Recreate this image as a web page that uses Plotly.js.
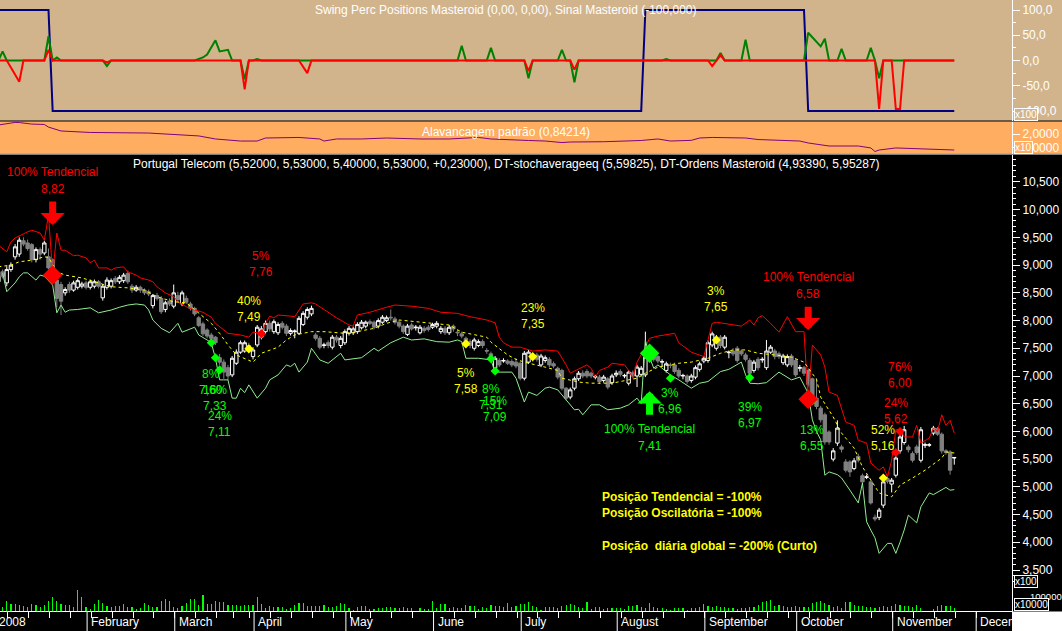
<!DOCTYPE html>
<html><head><meta charset="utf-8">
<script src="https://cdn.plot.ly/plotly-3.0.1.min.js"></script>
<style>html,body{margin:0;padding:0;background:#000;overflow:hidden}#chart{width:1062px;height:631px}</style>
</head><body><div id="chart"></div>
<script>
// ---------- categories / calendar ----------
const monthLabels = ['2008','February','March','April','May','June','July','August','September','October','November','December'];
const holidays = ['2008-01-01','2008-03-21','2008-03-24','2008-05-01'];

// ---------- price series (Portugal Telecom, daily) ----------
const open = [
 8.70,8.88,8.68,8.92,9.15,9.20,9.44,9.40,9.37,9.10,9.28,9.22,9.15,9.10,8.73,8.65,8.50,8.65,8.55,8.60,8.62,8.68,
 8.60,8.62,8.70,8.41,8.60,8.62,8.76,8.70,8.72,8.85,8.62,8.55,8.60,8.55,8.52,8.27,8.45,8.40,8.20,8.35,8.26,
 8.45,8.30,8.40,8.30,8.22,8.05,7.94,7.83,7.74,7.70,7.33,7.25,7.15,7.02,7.23,7.43,7.45,7.55,7.35,
 7.56,7.70,7.80,7.95,7.80,7.78,7.95,7.90,7.77,7.80,7.77,7.93,8.06,8.12,7.74,7.68,7.55,7.60,7.52,7.70,7.55,7.60,
 7.77,7.78,7.80,7.87,7.90,7.98,7.97,7.90,7.97,8.00,8.06,8.03,7.97,7.90,7.75,7.92,7.87,7.78,7.86,7.88,7.88,
 7.90,7.80,7.86,7.78,7.90,7.79,7.76,7.68,7.62,7.50,7.55,7.62,7.46,7.40,7.14,7.28,7.27,7.27,7.26,7.25,7.23,
 6.96,7.25,7.35,7.38,7.20,7.28,7.30,7.22,7.14,7.10,6.78,6.62,6.78,6.95,7.05,7.08,7.05,6.98,6.98,6.92,6.95,6.88,7.02,
 7.08,7.00,6.87,7.06,7.00,7.03,7.02,7.30,7.38,7.35,7.25,7.10,7.20,7.20,7.10,7.00,7.00,6.92,6.98,7.12,7.27,
 7.28,7.56,7.50,7.70,7.52,7.42,7.45,7.50,7.45,7.38,7.28,7.10,7.30,7.29,7.15,7.43,7.45,7.40,7.24,7.20,7.36,7.28,
 7.14,7.15,7.10,6.95,6.60,6.42,6.30,5.99,5.50,5.79,5.72,5.45,5.45,5.33,5.55,5.20,5.17,5.09,4.45,4.45,4.67,5.15,5.05,
 5.21,5.65,5.80,5.72,5.60,5.72,5.48,5.75,5.75,5.97,6.05,5.95,5.65,5.63,5.52];
const high = [
 8.85,8.92,8.98,9.05,9.38,9.50,9.50,9.46,9.40,9.32,9.32,9.44,9.30,9.12,8.78,8.70,8.60,8.70,8.72,8.76,8.70,8.72,
 8.74,8.74,8.73,8.66,8.78,8.76,8.80,8.82,8.86,8.90,8.66,8.64,8.63,8.58,8.56,8.48,8.50,8.44,8.36,8.40,8.65,
 8.52,8.54,8.45,8.34,8.25,8.08,7.98,7.86,7.78,7.72,7.40,7.30,7.20,7.36,7.48,7.64,7.64,7.60,7.52,
 7.92,7.90,8.00,8.00,8.02,7.97,7.99,7.94,7.86,7.84,8.08,8.17,8.24,8.27,7.78,7.72,7.60,7.64,7.74,7.74,7.72,7.84,
 7.90,7.89,7.97,8.01,8.00,8.02,8.00,8.04,8.10,8.09,8.20,8.07,8.00,7.93,7.94,7.96,7.92,7.92,7.90,7.92,7.96,
 7.99,7.90,7.90,7.92,7.93,7.83,7.80,7.71,7.66,7.69,7.66,7.66,7.50,7.44,7.36,7.32,7.32,7.30,7.30,7.32,7.26,
 7.45,7.47,7.40,7.42,7.40,7.37,7.34,7.26,7.17,7.13,6.80,6.79,6.99,7.09,7.10,7.12,7.08,7.02,7.02,7.02,6.98,7.04,7.10,
 7.12,7.04,7.10,7.10,7.20,7.18,7.80,7.50,7.42,7.38,7.30,7.26,7.24,7.24,7.14,7.04,7.03,7.04,7.19,7.26,7.36,
 7.64,7.80,7.74,7.74,7.74,7.46,7.50,7.54,7.48,7.42,7.32,7.29,7.34,7.34,7.65,7.56,7.49,7.44,7.40,7.39,7.40,7.32,
 7.20,7.18,7.14,6.97,6.96,6.46,6.34,6.02,5.70,6.20,5.76,5.50,5.48,5.52,5.60,5.24,5.22,5.12,4.50,4.62,5.12,5.20,5.16,
 5.56,5.94,6.10,5.76,5.64,5.76,6.08,5.80,5.79,6.10,6.08,5.98,5.68,5.66,5.53];
const low = [
 8.62,8.76,8.62,8.88,9.10,9.15,9.34,9.26,9.05,9.05,9.10,9.18,8.92,8.80,8.24,8.10,8.45,8.50,8.52,8.56,8.58,8.56,
 8.56,8.58,8.58,8.36,8.56,8.58,8.66,8.66,8.68,8.66,8.50,8.52,8.50,8.46,8.44,8.22,8.36,8.12,8.15,8.26,8.22,
 8.34,8.26,8.30,8.18,8.08,7.88,7.72,7.68,7.62,7.56,7.20,6.95,6.93,6.98,7.20,7.40,7.42,7.42,7.30,
 7.52,7.66,7.76,7.80,7.76,7.74,7.84,7.72,7.73,7.68,7.74,7.90,8.02,8.08,7.64,7.48,7.50,7.50,7.48,7.60,7.50,7.56,
 7.73,7.74,7.76,7.84,7.86,7.92,7.84,7.86,7.94,7.97,8.00,7.93,7.86,7.76,7.72,7.82,7.82,7.75,7.78,7.80,7.85,
 7.86,7.76,7.74,7.74,7.80,7.72,7.68,7.56,7.50,7.46,7.52,7.50,7.40,7.28,7.10,7.16,7.24,7.20,7.16,7.14,6.92,
 6.92,7.22,7.26,7.26,7.16,7.24,7.16,7.14,6.94,6.74,6.56,6.58,6.74,6.91,6.96,6.96,6.96,6.94,6.86,6.88,6.76,6.84,6.98,
 6.99,6.96,6.83,6.96,6.80,6.99,6.98,7.26,7.26,7.23,7.18,7.06,7.14,7.04,6.96,6.94,6.86,6.88,6.94,7.08,7.23,
 7.24,7.52,7.46,7.50,7.48,7.32,7.36,7.24,7.36,7.26,7.00,7.06,7.10,7.24,7.11,7.40,7.30,7.31,7.20,7.16,7.16,6.98,
 7.08,7.00,6.80,6.48,6.40,6.16,5.76,5.76,5.46,5.74,5.62,5.26,5.18,5.30,5.44,5.06,5.14,4.68,4.38,4.40,4.62,5.06,4.90,
 5.17,5.60,5.76,5.62,5.44,5.58,5.44,5.70,5.72,5.93,5.92,5.60,5.58,5.22,5.40];
const close = [
 8.80,8.80,8.92,9.00,9.33,9.45,9.38,9.30,9.10,9.28,9.20,9.40,8.95,8.85,8.40,8.35,8.56,8.55,8.68,8.72,8.66,8.60,
 8.70,8.70,8.62,8.62,8.73,8.72,8.70,8.78,8.82,8.70,8.55,8.60,8.55,8.50,8.48,8.45,8.40,8.16,8.32,8.30,8.50,
 8.38,8.50,8.33,8.22,8.12,7.91,7.76,7.72,7.68,7.60,7.25,7.07,7.00,7.32,7.43,7.60,7.60,7.45,7.47,
 7.88,7.85,7.95,7.85,7.98,7.93,7.88,7.77,7.82,7.81,8.04,8.13,8.20,8.22,7.68,7.52,7.56,7.55,7.70,7.65,7.68,7.80,
 7.86,7.85,7.93,7.97,7.97,7.95,7.88,8.00,8.06,8.05,8.05,7.97,7.90,7.80,7.90,7.85,7.88,7.88,7.82,7.84,7.93,
 7.95,7.86,7.78,7.88,7.85,7.78,7.72,7.60,7.55,7.65,7.62,7.55,7.45,7.33,7.32,7.20,7.28,7.23,7.20,7.18,6.96,
 7.41,7.43,7.30,7.30,7.36,7.33,7.20,7.18,6.98,6.78,6.60,6.75,6.95,7.05,7.00,7.00,7.00,6.99,6.90,6.98,6.80,7.00,7.05,
 7.03,7.01,7.07,7.00,7.16,7.14,7.34,7.45,7.30,7.27,7.26,7.22,7.19,7.08,7.00,7.01,6.90,7.00,7.15,7.22,7.32,
 7.60,7.76,7.70,7.55,7.70,7.43,7.40,7.28,7.40,7.30,7.05,7.25,7.15,7.30,7.45,7.52,7.35,7.35,7.36,7.35,7.20,7.02,
 7.15,7.05,6.85,6.52,6.45,6.21,5.81,5.81,5.65,6.06,5.68,5.30,5.27,5.47,5.48,5.09,5.18,4.71,4.42,4.58,5.09,5.10,5.12,
 5.52,5.90,6.03,5.67,5.48,5.62,6.03,5.76,5.76,6.06,5.95,5.65,5.62,5.30,5.53];
const volume = [
 5,3.7,10,7,7,6,5,4,6.7,6.3,4,6,10,14,9.7,7,5.7,6,4,21,14,3.7,
 1.7,6.7,10.7,7.7,4.7,4,4.7,5,7,4,4,2,3,8,6,4,4,9.7,12,9.7,4,
 3.3,5.3,8,12,12,6,16,7,7,10,9.3,9,6,6,6,5.3,6,6,5.7,
 14,7.3,3.3,5.3,4,4,4,2,3,6.3,8.3,8.3,5.3,5,5.3,5.3,6,4,4,5.3,8.3,7,
 3,1,4,5,5,2,2,2.7,3.3,4,4,3,2.7,4,3,3,0.5,3,2.3,2.3,10,
 3,7,7,3,4,3,2.7,6,5,4.7,2,4,2.7,6,5,5,4,8,4,5,7,
 7,9,5,4,1,4,4,4,2.7,5,6.3,7,6,4,3,9,2.3,4,4,2,3,3,3,
 3,2,5,5,6,4,3,8,4,3,2.7,2,1,3,3,3,1,3,3,4,7.3,
 5,4,5,4,4,3,2.7,2,2.7,3,4,4,6,9.3,10.3,11,5,6,5,4,4,5,
 4,4,4,8,9,10,8.3,6,4,5,3,9,9,6,5,5,4,4,3,4,5,4.3,5,
 7,6,5,5,4,6,3,0.5,0.5,2,5,6,5.3,5,3];

// ---------- DT-Ordens Masteroid bands and DT-stochaverageeq ----------
const upperIdx = [0,2,3,4,7,8,10,11,12,13,14,15,16,17,18,19,20,21,22,23,24,26,27,28,30,31,33,34,36,37,38,39,40,42,43,45,47,49,51,52,54,55,58,60,61,63,64,65,66,67,70,71,73,75,76,78,81,84,85,86,89,93,95,99,103,106,110,113,117,119,120,121,123,125,128,131,134,136,137,141,142,143,144,146,147,150,151,152,153,155,156,158,162,163,166,169,170,171,172,174,176,178,180,181,182,183,185,187,189,191,193,194,195,197,198,199,201,203,205,206,208,209,211,212,213,214,215,216,217,219,220,221,223,224,225,226,227,228,229];
const upperVal = [9.36,9.24,9.42,9.49,9.60,9.63,9.58,9.45,9.90,8.85,9.58,9.27,9.27,9.22,9.17,9.18,9.15,9.13,9.04,9.09,8.95,8.95,8.91,8.95,8.97,8.88,8.82,8.77,8.73,8.70,8.61,8.55,8.50,8.43,8.34,8.25,8.19,8.15,8.06,7.95,7.83,7.77,7.74,7.70,7.79,7.77,7.95,8.08,8.05,8.10,8.08,8.07,8.30,8.32,8.30,8.20,8.05,7.92,7.90,8.10,8.15,8.24,8.28,8.26,8.22,8.15,8.13,8.07,8.01,7.96,7.70,7.60,7.52,7.52,7.45,7.47,7.45,7.20,7.05,7.20,7.14,6.98,7.10,7.16,7.23,7.20,7.10,6.96,7.25,7.52,7.68,7.72,7.77,7.60,7.43,7.35,7.65,7.95,7.97,7.95,7.92,7.90,8.01,7.92,8.05,8.09,7.95,7.79,8.07,7.80,7.80,6.55,7.56,7.38,7.16,6.71,6.65,6.17,6.11,5.84,5.79,5.43,5.30,5.36,5.18,5.48,6.03,6.03,5.90,5.90,6.11,5.79,5.88,6.06,6.00,6.30,6.11,6.20,5.97];
const lowerIdx = [1,2,4,5,6,7,9,10,11,13,14,15,16,17,19,22,24,27,29,31,33,35,36,37,39,41,43,44,47,48,50,51,52,53,54,55,56,57,58,59,60,62,64,65,67,69,70,71,72,74,75,77,79,82,83,87,90,91,94,97,99,102,105,108,110,111,112,115,118,119,123,124,126,127,129,131,132,134,136,138,139,140,142,144,146,149,151,153,154,155,156,157,158,161,163,166,168,170,173,175,178,179,180,182,184,187,190,192,194,195,196,197,198,199,201,202,204,205,206,207,208,209,210,211,213,214,215,216,217,218,220,221,223,224,227,228,229];
const lowerVal = [8.86,8.52,8.68,8.79,8.86,8.86,8.73,8.82,8.80,8.64,8.14,8.28,8.15,8.19,8.20,8.23,8.14,8.19,8.24,8.28,8.30,8.28,8.19,8.01,7.86,7.78,7.95,7.79,7.88,7.74,7.65,7.60,7.32,6.93,6.93,6.93,6.60,6.60,6.78,6.70,6.84,6.60,6.78,6.93,7.02,7.20,7.17,7.23,7.07,7.25,7.50,7.29,7.23,7.41,7.29,7.33,7.50,7.45,7.60,7.70,7.65,7.67,7.62,7.61,7.65,7.62,7.32,7.32,7.29,7.07,7.07,6.96,6.53,6.71,6.65,6.78,6.80,6.75,6.57,6.39,6.40,6.30,6.48,6.48,6.39,6.42,6.48,6.60,6.50,7.65,7.34,7.14,7.20,7.02,6.93,6.78,6.87,6.90,7.08,7.12,7.25,7.02,6.87,6.86,6.88,7.07,6.93,6.98,6.69,6.21,6.00,5.85,5.21,5.27,5.22,5.16,4.94,4.82,4.71,5.07,4.37,4.22,4.08,3.80,3.98,3.98,3.80,4.00,4.22,4.49,4.35,4.64,4.89,4.86,4.99,4.94,4.95];
const midIdx = [0,3,5,8,11,12,14,16,20,23,27,31,35,38,42,45,48,51,53,55,57,60,61,63,67,69,71,75,78,83,86,90,93,96,99,104,108,111,114,117,118,122,124,126,131,134,135,139,142,147,153,155,158,163,166,170,173,176,179,182,186,190,193,196,197,200,202,205,207,209,211,214,216,219,222,226,227,229];
const midVal = [8.97,9.00,9.06,9.09,9.15,9.14,8.88,8.82,8.77,8.70,8.61,8.59,8.55,8.43,8.34,8.32,8.14,7.95,7.77,7.56,7.38,7.29,7.25,7.41,7.52,7.65,7.74,7.80,7.80,7.77,7.80,7.86,7.95,8.01,7.99,7.95,7.92,7.79,7.74,7.70,7.61,7.38,7.30,7.25,7.16,7.10,6.96,6.89,6.87,6.87,6.96,7.05,7.16,7.23,7.25,7.32,7.41,7.47,7.47,7.41,7.38,7.34,7.25,6.94,6.62,6.26,5.97,5.70,5.36,5.12,4.89,4.82,5.03,5.16,5.30,5.52,5.63,5.61];

// ---------- signals ----------
const oscIdx   = [51,52,53,60,63,112,118,119,128,161,172,180,195,212,215,216];
const oscPrice = [7.60,7.33,7.11,7.49,7.76,7.58,7.31,7.09,7.35,6.96,7.65,6.97,6.55,5.16,5.62,6.00];
const oscPct   = ['8%','16%','24%','40%','5%','5%','8%','15%','23%','3%','3%','39%','13%','52%','24%','76%'];
const oscKind  = ['buy','buy','buy','exit','sell','exit','buy','buy','exit','buy','exit','buy','buy','exit','sell','sell'];
const trendIdx   = [13,156,194];
const trendPrice = [8.82,7.41,6.58];
const trendKind  = ['sell','buy','sell'];
const trendPct   = ['100%','100%','100%'];

// ---------- Swing Perc Positions / Sinal Masteroid ----------
const signalIdx = [0,12,13,154,155,193,194,229];
const signalVal = [100,100,-100,-100,100,100,-100,-100];
const swingGreenIdx = [0,1,2,11,12,13,14,15,25,26,27,47,49,50,52,53,55,56,58,59,60,61,62,63,110,111,112,117,118,119,126,127,128,134,135,136,137,138,139,159,160,161,172,173,174,178,179,180,193,194,197,198,199,201,202,203,208,209,210,211,212,229];
const swingGreenVal = [0,18,0,0,48,0,6,0,0,-11,0,0,6,12,40,18,21,0,0,-37,0,0,3,0,0,29,0,0,25,0,0,-35,0,0,21,0,0,-43,0,0,3,0,0,15,0,0,41,0,0,55,28,43,0,0,23,0,0,25,0,-35,0,0];
const swingRedIdx = [0,2,3,4,5,6,11,12,13,25,26,27,58,59,60,72,74,75,126,127,128,137,138,139,170,171,172,173,174,210,211,212,214,215,216,217,229];
const swingRedVal = [0,0,-14,-28,-42,0,0,21,0,0,-4,0,0,-57,0,0,-25,0,0,-21,0,0,-18,0,0,-11,0,10,0,0,-96,0,0,-96,-96,0,0];

// ---------- Alavancagem padrão ----------
const levIdx = [0,4,5,8,11,12,15,22,36,48,52,58,62,64,72,77,78,81,87,93,101,108,115,118,127,131,135,137,145,154,158,161,166,168,171,179,182,192,194,199,206,209,210,211,215,221,229];
const levVal = [2.65,2.84,2.83,2.72,2.69,2.50,2.22,2.11,2.07,1.86,1.64,1.49,1.49,1.71,1.75,1.64,1.49,1.64,1.64,1.71,1.64,1.64,1.75,1.64,1.53,1.49,1.38,1.42,1.44,1.53,1.64,1.49,1.54,1.71,1.75,1.71,1.60,1.49,1.35,1.13,1.13,0.99,0.73,0.84,0.99,0.91,0.84];

// ---------- checks ----------
[open,high,low,volume].forEach(a=>{ if(a.length!==close.length) throw new Error('length mismatch '+a.length+' vs '+close.length); });
[[upperIdx,upperVal],[lowerIdx,lowerVal],[midIdx,midVal],[swingGreenIdx,swingGreenVal],[swingRedIdx,swingRedVal],[levIdx,levVal]].forEach((p,k)=>{ if(p[0].length!==p[1].length) throw new Error('pair '+k+' '+p[0].length+' vs '+p[1].length); });

// ---------- calendar ----------
function buildCalendar(endStr){
  const out=[]; const d=new Date(Date.UTC(2008,0,1)); const end=new Date(endStr+'T00:00:00Z');
  while(d<=end){ const wd=d.getUTCDay(); const s=d.toISOString().slice(0,10);
    if(wd!==0 && wd!==6 && holidays.indexOf(s)<0) out.push(s);
    d.setUTCDate(d.getUTCDate()+1); }
  return out;
}
const calendar = buildCalendar('2008-12-05');
const monthStart=[], weekStart=[];
for(let i=0;i<calendar.length;i++){
  const d=new Date(calendar[i]+'T00:00:00Z');
  if(i===0){monthStart.push(i);continue;}
  const p=new Date(calendar[i-1]+'T00:00:00Z');
  if(d.getUTCMonth()!==p.getUTCMonth()) monthStart.push(i);
  if(d.getUTCDay()<p.getUTCDay() || (d-p)>6*864e5) weekStart.push(i);
}
const idx = close.map((_,i)=>i);

// ---------- styling ----------
const FONT='Liberation Sans, Arial, sans-serif';
const TAN='#D2B48C', ORANGE='#FFAD60';
const COL={buy:'#00FF00', sell:'#FF0000', exit:'#FFFF00'};
const XR=[0.383,242.83];
const BOUND=0.75;
const PXH=611;
const pY=px=>(PXH-px)/PXH;
const RIGHT=1062/1012;

const traces=[];
traces.push({type:'scatter',mode:'lines',x:signalIdx,y:signalVal,xaxis:'x',yaxis:'y2',line:{color:'#000080',width:2},hoverinfo:'skip'});
traces.push({type:'scatter',mode:'lines',x:swingGreenIdx,y:swingGreenVal,xaxis:'x',yaxis:'y2',line:{color:'#008000',width:2},hoverinfo:'skip'});
traces.push({type:'scatter',mode:'lines',x:swingRedIdx,y:swingRedVal,xaxis:'x',yaxis:'y2',line:{color:'#FF0000',width:2},hoverinfo:'skip'});
traces.push({type:'scatter',mode:'lines',x:levIdx,y:levVal,xaxis:'x',yaxis:'y3',line:{color:'#800080',width:1},hoverinfo:'skip'});
traces.push({type:'candlestick',x:idx,open:open,high:high,low:low,close:close,xaxis:'x',yaxis:'y',
  increasing:{line:{color:'#FFFFFF',width:1},fillcolor:'#000000'},
  decreasing:{line:{color:'#808080',width:1},fillcolor:'#808080'},
  whiskerwidth:0,hoverinfo:'skip'});
traces.push({type:'scatter',mode:'lines',x:upperIdx,y:upperVal,xaxis:'x',yaxis:'y',line:{color:'#FF0000',width:1},hoverinfo:'skip'});
traces.push({type:'scatter',mode:'lines',x:lowerIdx,y:lowerVal,xaxis:'x',yaxis:'y',line:{color:'#90EE90',width:1},hoverinfo:'skip'});
traces.push({type:'scatter',mode:'lines',x:midIdx,y:midVal,xaxis:'x',yaxis:'y',line:{color:'#FFFF00',width:1,dash:'3px,3px'},hoverinfo:'skip'});
traces.push({type:'scatter',mode:'markers',x:oscIdx,y:oscPrice,xaxis:'x',yaxis:'y',
  marker:{symbol:'diamond',size:7,color:oscKind.map(k=>COL[k]),line:{width:0}},hoverinfo:'skip'});
traces.push({type:'scatter',mode:'markers',x:trendIdx,y:trendPrice,xaxis:'x',yaxis:'y',
  marker:{symbol:'diamond',size:15,color:trendKind.map(k=>COL[k]),line:{width:0}},hoverinfo:'skip'});
traces.push({type:'bar',x:idx,y:volume,xaxis:'x',yaxis:'y4',width:0.28,marker:{color:'#00FF00',line:{width:0}},hoverinfo:'skip'});

const fmt=p=>p.toFixed(2).replace('.',',');
const annotations=[];
annotations.push({xref:'paper',yref:'paper',x:0.5,y:pY(10),text:'Swing Perc Positions Masteroid (0,00, 0,00), Sinal Masteroid (-100,000)',showarrow:false,font:{color:'#FFFFFF',size:12},yanchor:'middle'});
annotations.push({xref:'paper',yref:'paper',x:0.5,y:pY(132),text:'Alavancagem padrão (0,84214)',showarrow:false,font:{color:'#FFFFFF',size:12},yanchor:'middle'});
annotations.push({xref:'paper',yref:'paper',x:0.5,y:pY(164),text:'Portugal Telecom (5,52000, 5,53000, 5,40000, 5,53000, +0,23000), DT-stochaverageeq (5,59825), DT-Ordens Masteroid (4,93390, 5,95287)',showarrow:false,font:{color:'#FFFFFF',size:12},yanchor:'middle'});
const box=(t,ypx,bg)=>({xref:'paper',yref:'paper',x:1014/1012,y:pY(ypx),xanchor:'left',yanchor:'middle',text:t,showarrow:false,font:{color:'#FFFFFF',size:10},bgcolor:bg,bordercolor:'#FFFFFF',borderwidth:1,borderpad:0});
annotations.push(box('x100',114,TAN));
annotations.push(box('x10',148,ORANGE));
annotations.push(box('x100',581.5,'#000000'));
annotations.push({xref:'paper',yref:'paper',x:1028/1012,y:pY(596),xanchor:'left',yanchor:'middle',text:'100000',showarrow:false,font:{color:'#FFFFFF',size:9.5}});
annotations.push(box('x10000',604.5,'#000000'));
const oscDy=[31,32,46,-48,-78,29,30,30,-49,15,-49,29,29,-48,-49,-64];
oscIdx.forEach((ix,k)=>{
  annotations.push({x:ix,y:oscPrice[k],xref:'x',yref:'y',text:oscPct[k],showarrow:false,yshift:-oscDy[k],font:{color:COL[oscKind[k]],size:12}});
  annotations.push({x:ix,y:oscPrice[k],xref:'x',yref:'y',text:fmt(oscPrice[k]),showarrow:false,yshift:-(oscDy[k]+16),font:{color:COL[oscKind[k]],size:12}});
});
const arrowDy=[-50,38,-69], trendTextDy=[-103,76,-122];
trendIdx.forEach((ix,k)=>{
  const c=COL[trendKind[k]], up=trendKind[k]==='buy';
  annotations.push({x:ix,y:trendPrice[k],xref:'x',yref:'y',text:'',showarrow:true,ax:0,ay:up?25:-25,
    arrowcolor:c,arrowwidth:7,arrowhead:1,arrowsize:0.58,standoff:0,yshift:-arrowDy[k]});
  annotations.push({x:ix,y:trendPrice[k],xref:'x',yref:'y',text:trendPct[k]+' Tendencial',showarrow:false,yshift:-trendTextDy[k],font:{color:c,size:12}});
  annotations.push({x:ix,y:trendPrice[k],xref:'x',yref:'y',text:fmt(trendPrice[k]),showarrow:false,yshift:-(trendTextDy[k]+17),font:{color:c,size:12}});
});
[['Posição Tendencial = -100%',497],['Posição Oscilatória = -100%',513],['Posição\u00a0\u00a0diária global = -200% (Curto)',546]].forEach(r=>{
  annotations.push({xref:'paper',yref:'paper',x:600/1012,y:pY(r[1]),xanchor:'left',yanchor:'middle',text:'<b>'+r[0]+'</b>',showarrow:false,font:{color:'#FFFF00',size:12}});
});
const shapes=[];
shapes.push({type:'rect',xref:'paper',yref:'paper',x0:0,x1:RIGHT,y0:pY(120.5),y1:1,fillcolor:TAN,line:{width:0},layer:'below'});
shapes.push({type:'rect',xref:'paper',yref:'paper',x0:0,x1:RIGHT,y0:pY(153.5),y1:pY(121.5),fillcolor:ORANGE,line:{width:0},layer:'below'});
shapes.push({type:'line',xref:'paper',yref:'paper',x0:0,x1:RIGHT,y0:pY(154),y1:pY(154),line:{color:'#FFFFFF',width:1}});
shapes.push({type:'rect',xref:'paper',yref:'paper',x0:1,x1:RIGHT,y0:pY(631),y1:pY(611.5),fillcolor:'#FFFFFF',line:{width:0}});
monthStart.forEach((ms,k)=>{
  const sx=ms-BOUND;
  const px=(sx-XR[0])/(XR[1]-XR[0]);
  if(sx>XR[0] && sx<XR[1]) shapes.push({type:'line',xref:'paper',yref:'paper',x0:px,x1:px,y0:0,y1:pY(631),line:{color:'#FFFFFF',width:1}});
  annotations.push({xref:'paper',yref:'paper',x:px,y:pY(622),xanchor:'left',yanchor:'middle',xshift:2,text:monthLabels[k],showarrow:false,font:{color:'#FFFFFF',size:12}});
});

const axCommon={showgrid:false,zeroline:false,showline:true,linecolor:'#FFFFFF',linewidth:1,side:'right',anchor:'x',
  ticks:'outside',ticklen:7,tickcolor:'#FFFFFF',tickfont:{color:'#FFFFFF',size:12,family:FONT},fixedrange:true};
const layout={
  width:1062,height:631,margin:{l:0,r:50,t:0,b:20,pad:0},
  paper_bgcolor:'#000000',plot_bgcolor:'rgba(0,0,0,0)',
  font:{family:FONT,size:12,color:'#FFFFFF'},
  separators:',.',showlegend:false,hovermode:false,
  boxgap:0.15,boxgroupgap:0.05,
  xaxis:{domain:[0,1],range:XR,anchor:'y4',showgrid:false,zeroline:false,showline:true,linecolor:'#FFFFFF',linewidth:1,
    tickmode:'array',tickvals:weekStart.map(i=>i-BOUND),ticks:'outside',ticklen:6,tickcolor:'#FFFFFF',showticklabels:false,
    rangeslider:{visible:false},fixedrange:true},
  yaxis:Object.assign({},axCommon,{domain:[pY(584),pY(155)],range:[3.2474,10.987],tick0:0,dtick:0.5,tickformat:'.3f',
    minor:{dtick:0.1,ticks:'outside',ticklen:3,tickcolor:'#FFFFFF',showgrid:false}}),
  yaxis2:Object.assign({},axCommon,{domain:[pY(121),1],range:[-119.8,119.8],tickmode:'array',tickvals:[100,50,0,-50,-100],
    ticktext:['100,0','50,0','0,0','-50,0','-100,0'],minor:{tickmode:'linear',tick0:0,dtick:25,ticks:'outside',ticklen:3,tickcolor:'#FFFFFF',showgrid:false}}),
  yaxis3:Object.assign({},axCommon,{domain:[pY(153.5),pY(121.5)],range:[0.587,2.906],tickmode:'array',tickvals:[1,2],ticktext:['1,0000','2,0000']}),
  yaxis4:Object.assign({},axCommon,{domain:[0,pY(584)],range:[0,27],showticklabels:false,ticks:'',tickmode:'array',tickvals:[]}),
  shapes:shapes,annotations:annotations,bargap:0
};
Plotly.newPlot('chart',traces,layout,{staticPlot:true,displayModeBar:false});
</script></body></html>
